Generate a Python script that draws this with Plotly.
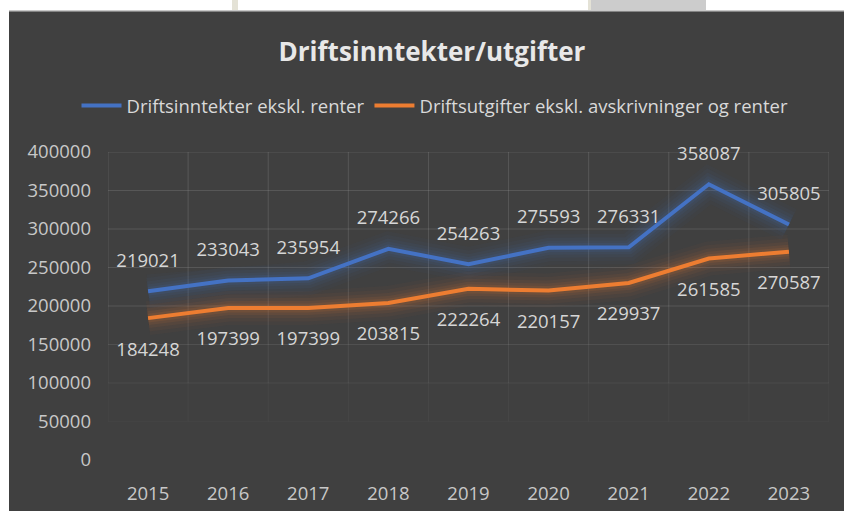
import plotly.graph_objects as go

years = ["2015", "2016", "2017", "2018", "2019", "2020", "2021", "2022", "2023"]
inntekter = [219021, 233043, 235954, 274266, 254263, 275593, 276331, 358087, 305805]
utgifter = [184248, 197399, 197399, 203815, 222264, 220157, 229937, 261585, 270587]
name_inn = "Driftsinntekter ekskl. renter"
name_utg = "Driftsutgifter ekskl. avskrivninger og renter"
title_text = "Driftsinntekter/utgifter"
y_ticks = [0, 50000, 100000, 150000, 200000, 250000, 300000, 350000, 400000]

BLUE = "#4472C4"
ORANGE = "#ED7D31"
BG = "#404040"
FONT = "Open Sans"

VIEW_W = 844
W, H = 864, 511
L, R, T, B = 108, 15 + (864 - VIEW_W), 152, 51
PW, PH = W - L - R, H - T - B


def px(x):
    return (x - L) / PW


def py(y):
    return (H - B - y) / PH


def grid_alpha(v):
    return 0.12 * min(1.0, max(0.0, (v - 20000) / 180000))


fig = go.Figure()

# soft glow layers
for vals, rgb in ((inntekter, "68,114,196"), (utgifter, "237,125,49")):
    for w, a in ((34, 0.035), (27, 0.045), (20, 0.06), (14, 0.08), (9, 0.10)):
        fig.add_trace(go.Scatter(
            x=years, y=vals, mode="lines", showlegend=False, hoverinfo="skip",
            line=dict(color=f"rgba({rgb},{a})", width=w),
        ))

fig.add_trace(go.Scatter(
    x=years, y=inntekter, name=name_inn, mode="lines+markers+text",
    line=dict(color=BLUE, width=4),
    marker=dict(size=30, color="rgba(0,0,0,0)"),
    text=[str(v) for v in inntekter], textposition="top center", cliponaxis=False,
    textfont=dict(family=FONT, size=18.5, color="#d6d6d6"),
))
fig.add_trace(go.Scatter(
    x=years, y=utgifter, name=name_utg, mode="lines+markers+text",
    line=dict(color=ORANGE, width=4),
    marker=dict(size=36, color="rgba(0,0,0,0)"),
    text=[str(v) for v in utgifter], textposition="bottom center", cliponaxis=False,
    textfont=dict(family=FONT, size=18.5, color="#d6d6d6"),
))

shapes = []
# fading gridlines
for v in y_ticks:
    a = grid_alpha(v)
    if a > 0:
        shapes.append(dict(type="line", xref="paper", yref="y", x0=0, x1=1, y0=v, y1=v,
                           line=dict(color=f"rgba(255,255,255,{a:.3f})", width=1), layer="below"))
n = len(years)
for i in range(n + 1):
    for lo, hi in zip(y_ticks[:-1], y_ticks[1:]):
        a = grid_alpha((lo + hi) / 2)
        if a > 0:
            shapes.append(dict(type="line", xref="x", yref="y", x0=i - 0.5, x1=i - 0.5,
                               y0=lo, y1=hi,
                               line=dict(color=f"rgba(255,255,255,{a:.3f})", width=1),
                               layer="below"))

# screenshot edges
shapes += [
    dict(type="rect", xref="paper", yref="paper", x0=px(-5), x1=px(9), y0=py(H + 5), y1=py(-5),
         fillcolor="white", line=dict(width=0), layer="above"),
    dict(type="rect", xref="paper", yref="paper", x0=px(-5), x1=px(W + 5), y0=py(10.2), y1=py(-5),
         fillcolor="white", line=dict(width=0), layer="above"),
    dict(type="line", xref="paper", yref="paper", x0=px(9), x1=px(W + 5), y0=py(10.8), y1=py(10.8),
         line=dict(color="#c8c8c8", width=1.5), layer="above"),
    dict(type="rect", xref="paper", yref="paper", x0=px(232), x1=px(238), y0=py(10), y1=py(-5),
         fillcolor="#e4e2d6", line=dict(width=0), layer="above"),
    dict(type="rect", xref="paper", yref="paper", x0=px(588), x1=px(706), y0=py(10), y1=py(-5),
         fillcolor="#cccccc", line=dict(width=0), layer="above"),
    dict(type="rect", xref="paper", yref="paper", x0=px(588), x1=px(591), y0=py(10), y1=py(-5),
         fillcolor="#e4e2d6", line=dict(width=0), layer="above"),
]

fig.update_layout(
    width=W, height=H,
    margin=dict(l=L, r=R, t=T, b=B, autoexpand=False),
    paper_bgcolor=BG, plot_bgcolor=BG,
    title=dict(text=f"<b>{title_text}</b>", xref="container", x=432 / W, xanchor="center",
               yref="container", y=1 - 52 / H, yanchor="middle",
               font=dict(family=FONT, size=26, color="#e8e8e8")),
    legend=dict(orientation="h", xref="container", x=435 / W, xanchor="center",
                yref="container", y=1 - 106 / H, yanchor="middle",
                font=dict(family=FONT, size=18.5, color="#d9d9d9"),
                bgcolor="rgba(0,0,0,0)", itemwidth=40, tracegroupgap=0),
    xaxis=dict(type="category", range=[-0.5, 8.5], showgrid=False, showline=False,
               zeroline=False, ticks="", ticklabelstandoff=20,
               tickfont=dict(family=FONT, size=18.5, color="#c8c8c8")),
    yaxis=dict(range=[0, 400000], tickvals=y_ticks, ticktext=[str(v) for v in y_ticks],
               showgrid=False, zeroline=False, showline=False,
               ticks="", ticklabelstandoff=16,
               tickfont=dict(family=FONT, size=18.5, color="#c8c8c8")),
    shapes=shapes,
    showlegend=True,
)

fig.write_html(
    "out.html",
    config={"displayModeBar": False},
    post_script="document.body.style.margin='0';document.body.style.overflow='hidden';",
)
